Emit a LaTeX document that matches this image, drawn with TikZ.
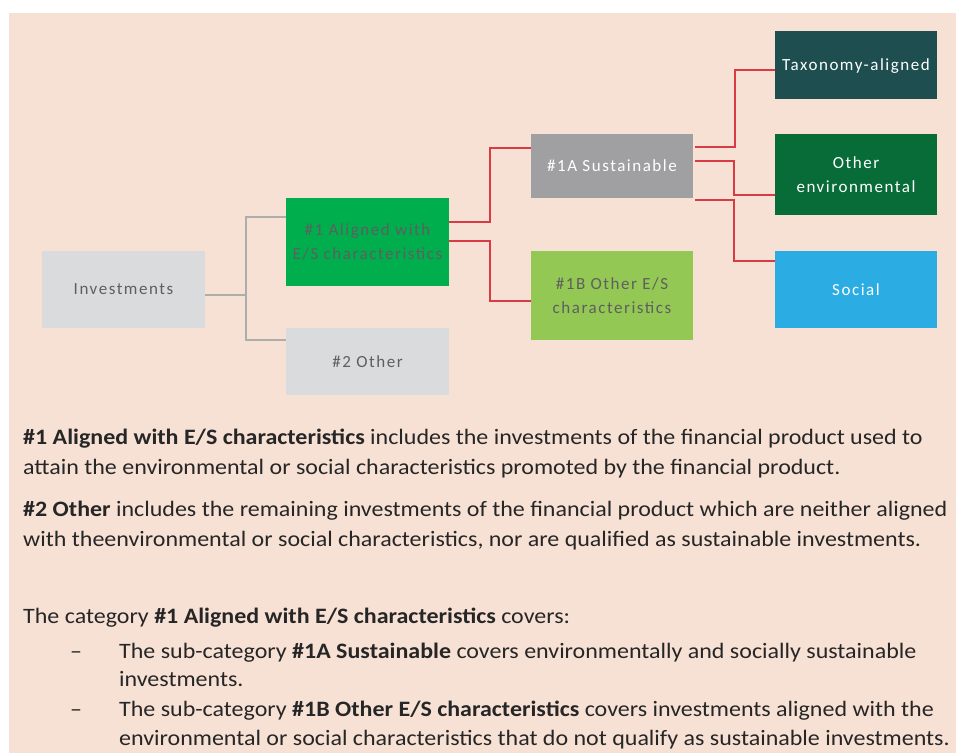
\documentclass[tikz,border=0pt]{standalone}
\usepackage{fontspec}
\setmainfont{Carlito}[FakeStretch=1.09]
\newfontfamily\boxfont[LetterSpace=9]{Carlito}
\usepackage{tikz}
\definecolor{peach}{HTML}{F7E1D5}
\definecolor{boxGray}{HTML}{DADBDD}
\definecolor{midGray}{HTML}{A0A0A2}
\definecolor{esGreen}{HTML}{00AE4D}
\definecolor{lightGreen}{HTML}{93C855}
\definecolor{taxTeal}{HTML}{1E4E4F}
\definecolor{envGreen}{HTML}{086C38}
\definecolor{socBlue}{HTML}{2BADE3}
\definecolor{lineRed}{HTML}{D93B45}
\definecolor{lineGray}{HTML}{ADADAD}
\definecolor{txtGray}{HTML}{5F5F5F}
\definecolor{bodyTxt}{HTML}{262626}

\begin{document}
\begin{tikzpicture}[x=1pt, y=-1pt,
    cat/.style={minimum width=163pt, inner sep=0pt, align=center, text depth=-5pt,
      font=\boxfont\fontsize{17}{24}\selectfont},
    gline/.style={lineGray, line width=2pt},
    rline/.style={lineRed, line width=2pt},
    para/.style={anchor=base west, inner sep=0pt, align=left, text=bodyTxt,
      font=\fontsize{22}{30}\selectfont}]
  \useasboundingbox (0,0) rectangle (956,753);
  \fill[peach] (9,13) rectangle (956,753);
  % the tree
  \node[cat, fill=boxGray, text=txtGray, minimum height=77pt] (inv) at (123.5,289.5) {Investments};
  \node[cat, fill=esGreen, text=txtGray, minimum height=88pt] (es) at (367.5,242) {\#1 Aligned with\\E/S characteristics};
  \node[cat, fill=boxGray, text=txtGray, minimum height=67pt] (oth) at (367.5,361.5) {\#2 Other};
  \node[cat, fill=midGray, text=white, minimum width=162pt, minimum height=64pt] (sus) at (612,166) {\#1A Sustainable};
  \node[cat, fill=lightGreen, text=txtGray, minimum width=162pt, minimum height=89pt] (obs) at (612,295.5) {\#1B Other E/S\\characteristics};
  \node[cat, fill=taxTeal, text=white, minimum width=162pt, minimum height=68pt] (tax) at (856,65) {Taxonomy-aligned};
  \node[cat, fill=envGreen, text=white, minimum width=162pt, minimum height=81pt] (env) at (856,174.5) {Other\\environmental};
  \node[cat, fill=socBlue, text=white, minimum width=162pt, minimum height=77pt] (soc) at (856,289.5) {Social};
  \draw[gline] ([yshift=-5.5pt]inv.east) -- ++(41,0) coordinate (gj) |- ([yshift=-19pt]es.north west);
  \draw[gline] (gj) |- ([yshift=-12pt]oth.north west);
  \draw[rline] ([yshift=-24pt]es.north east) -- ++(41,0) |- ([yshift=-14pt]sus.north west);
  \draw[rline] ([yshift=-43pt]es.north east) -- ++(41,0) |- ([yshift=-50pt]obs.north west);
  \draw[rline] ([xshift=2pt,yshift=-13pt]sus.north east) -- ++(40,0) |- ([yshift=-39pt]tax.north west);
  \draw[rline] ([xshift=2pt,yshift=-27pt]sus.north east) -- ++(39,0) |- ([yshift=-61pt]env.north west);
  \draw[rline] ([xshift=2pt,yshift=-2pt]sus.south east) -- ++(39,0) |- ([yshift=-10pt]soc.north west);
  % the notes (base = last line)
  \node[para] (p1) at (23,474) {\textbf{\#1 Aligned with E/S characteristics} includes the investments of the financial product used to\\attain the environmental or social characteristics promoted by the financial product.};
  \node[para] (p2) at (23,546) {\textbf{\#2 Other} includes the remaining investments of the financial product which are neither aligned\\with theenvironmental or social characteristics, nor are qualified as sustainable investments.};
  \node[para] (p3) at (23,623) {The category \textbf{\#1 Aligned with E/S characteristics} covers:};
  \node[para] (d1) at (70,658) {--};
  \node[para, font=\fontsize{22}{28}\selectfont] (i1) at (119,686) {The sub-category \textbf{\#1A Sustainable} covers environmentally and socially sustainable\\investments.};
  \node[para] (d2) at (70,716) {--};
  \node[para, font=\fontsize{22}{29}\selectfont] (i2) at (119,745) {The sub-category \textbf{\#1B Other E/S characteristics} covers investments aligned with the\\environmental or social characteristics that do not qualify as sustainable investments.};
\end{tikzpicture}
\end{document}
